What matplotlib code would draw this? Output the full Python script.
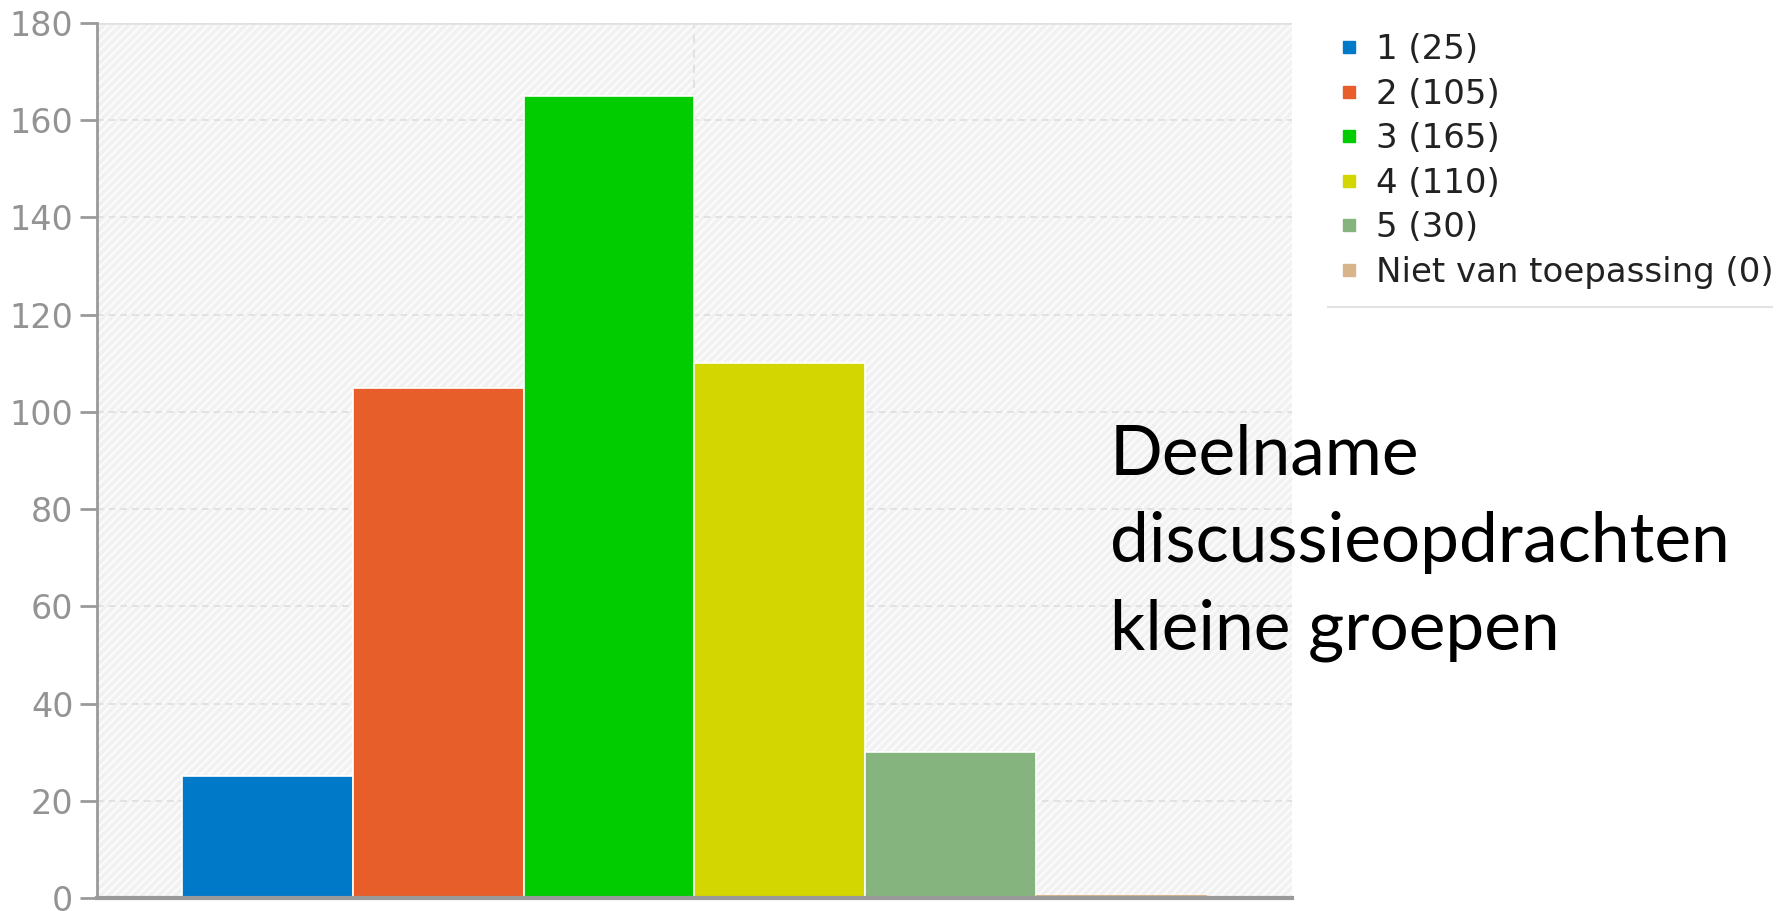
import numpy as np
import matplotlib
matplotlib.use("Agg")
import matplotlib.pyplot as plt
from matplotlib.lines import Line2D
from matplotlib.patches import Rectangle

# gegevens
categorieen = ["1", "2", "3", "4", "5", "Niet van toepassing"]
aantallen = [25, 105, 165, 110, 30, 0]
kleuren = ["#0079c9", "#e85e2a", "#00cc00", "#d3d600", "#86b47e", "#d8b48a"]
y_ticks = [0, 20, 40, 60, 80, 100, 120, 140, 160, 180]
titel = ["Deelname", "discussieopdrachten", "kleine groepen"]

W, H = 1777, 911
plt.rcParams["hatch.linewidth"] = 1.6
fig = plt.figure(figsize=(W / 100, H / 100), dpi=100)
ax = fig.add_axes([97 / W, 1 - 898 / H, (1292 - 97) / W, (898 - 23) / H])

# gearceerde achtergrond
ax.set_facecolor("#f1f1f1")
ax.add_patch(Rectangle((0, 0), 1, 1, transform=ax.transAxes, facecolor="#f1f1f1",
                       edgecolor="#fbfbfb", hatch="////", lw=0, zorder=0))

x = np.arange(len(aantallen))
ax.bar(x, aantallen, width=1.0, color=kleuren, edgecolor="white", lw=1.2, zorder=3)
# de lege categorie als dunne streep
ax.bar(x[-1], 0.6, width=1.0, color=kleuren[-1], lw=0, zorder=3)

ax.set_xlim(-1.0, 6.0)
ax.set_ylim(0, 180)
ax.set_yticks(y_ticks)
ax.set_xticks([])
ax.yaxis.grid(True, color="#dedede", ls=(0, (4, 3)), lw=1.2, zorder=1)
ax.axvline(2.5, color="#dedede", ls=(0, (5, 4)), lw=1.2, zorder=1)
ax.axhline(180, color="#e2e2e2", lw=2, zorder=1)

for s in ["top", "right"]:
    ax.spines[s].set_visible(False)
ax.spines["left"].set_color("#9a9a9a")
ax.spines["left"].set_linewidth(2)
ax.spines["bottom"].set_color("#9a9a9a")
ax.spines["bottom"].set_linewidth(3)
ax.spines["bottom"].set_zorder(4)
ax.tick_params(axis="y", length=12, width=2, color="#9a9a9a", labelcolor="#939393",
               labelsize=24, pad=5)

# legenda
handles = [Line2D([], [], ls="", marker="s", ms=9, color=k, mec=k) for k in kleuren]
labels = [f"{c} ({n})" for c, n in zip(categorieen, aantallen)]
leg = fig.legend(handles, labels, loc="upper left", bbox_to_anchor=(1339 / W, 1 - 33 / H),
                 frameon=False, fontsize=24.5, handlelength=0.6, handletextpad=0.5,
                 labelspacing=0.34, borderpad=0, borderaxespad=0)
for t in leg.get_texts():
    t.set_color("#222222")
fig.add_artist(Line2D([1328 / W, 1772 / W], [1 - 307 / H, 1 - 307 / H],
                      color="#e3e3e3", lw=1.5))

# titel rechts
for i, regel in enumerate(titel):
    fig.text(1110 / W, 1 - (474 + 88 * i) / H, regel, fontsize=50, family="Lato",
             color="black", va="baseline", ha="left")

plt.savefig("out.png", dpi=100)
